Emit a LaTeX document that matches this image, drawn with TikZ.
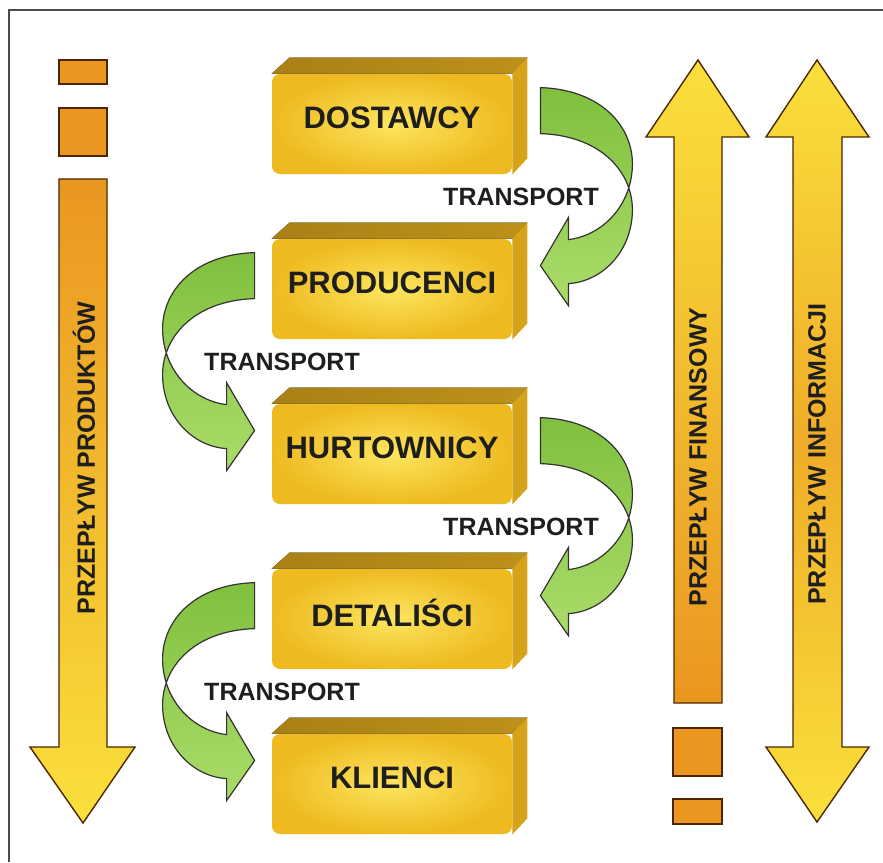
\documentclass[tikz,border=0pt]{standalone}
\usepackage{fontspec}
\setmainfont{Liberation Sans}
\usetikzlibrary{matrix,calc,backgrounds}
\definecolor{boxgold}{RGB}{238,186,32}
\definecolor{boxlight}{RGB}{252,230,95}
\definecolor{topgold}{RGB}{168,128,22}
\definecolor{sidegold}{RGB}{214,164,26}
\definecolor{bendgreen}{RGB}{128,192,62}
\definecolor{bendlight}{RGB}{170,220,105}
\definecolor{flowyellow}{RGB}{250,224,60}
\definecolor{floworange}{RGB}{234,150,32}
\definecolor{inkgray}{RGB}{30,30,30}
\tikzstyle{stage} = [rounded corners=4pt, minimum width=120pt, minimum height=50pt, inner color=boxlight, outer color=boxgold, text=inkgray, font=\bfseries\fontsize{15.5}{18}\selectfont, text depth=6pt]
\tikzstyle{topface} = [left color=topgold, right color=topgold!70!boxgold]
\tikzstyle{sideface} = [fill=sidegold]
\tikzstyle{transport} = [text=inkgray, font=\bfseries\fontsize{12.5}{15}\selectfont]
\tikzstyle{flowtext} = [transport, rotate=90]
\tikzstyle{bendarrow} = [draw=black!80, line width=0.6pt, top color=bendgreen, bottom color=bendlight]
\tikzstyle{flowbar} = [draw=black!70!orange, line width=0.7pt]
\tikzstyle{flowbit} = [flowbar, fill=floworange]
\newcommand{\stg}[2]{\node [stage] (#1) {#2};}
\newcommand{\greenbend}[2]{\begin{scope}[shift={#1}, xscale=#2]
	\draw[bendarrow] (0,0) .. controls (62,2) and (93,40) .. (92,78) .. controls (91,118) and (62,148) .. (28,152) -- (28,130) -- (0,178) -- (28,218) -- (28,196) .. controls (62,194) and (91,164) .. (92,124) .. controls (93,86) and (62,48) .. (0,46) -- cycle;
	\end{scope}}

\begin{document}
\begin{tikzpicture}[x=0.5pt, y=-0.5pt]%
	\useasboundingbox (0,0) rectangle (883,862);%
	\draw[black!70, line width=0.8pt] (9,862) -- (9,10) -- (883,10);%
	\matrix (mat) at (392,454) [row sep=32.5pt] {
		\stg{dost}{DOSTAWCY} \\
		\stg{prod}{PRODUCENCI} \\
		\stg{hurt}{HURTOWNICY} \\
		\stg{det}{DETALIŚCI} \\
		\stg{kl}{KLIENCI} \\
	};%
	\begin{scope}[on background layer]
		\foreach \s in {dost,prod,hurt,det,kl}{
			\fill[topface] (\s.north west) -- ($(\s.north west)+(18,-16)$) -- ($(\s.north east)+(15,-16)$) -- (\s.north east) -- cycle;
			\fill[sideface] (\s.north east) -- ($(\s.north east)+(15,-16)$) -- ($(\s.south east)+(15,-16)$) -- (\s.south east) -- cycle;
		}
	\end{scope}
	% transport
	\greenbend{($(dost.north east)+(28,14)$)}{1}
	\greenbend{($(prod.north west)+(-17,14)$)}{-1}
	\greenbend{($(hurt.north east)+(28,14)$)}{1}
	\greenbend{($(det.north west)+(-17,14)$)}{-1}
	\node[transport] (tr1) at (521,197) {TRANSPORT};
	\node[transport] (tr2) at (282,362) {TRANSPORT};
	\node[transport] (tr3) at (521,527) {TRANSPORT};
	\node[transport] (tr4) at (282,692) {TRANSPORT};
	% flows
	\draw[flowbit] (59,60) rectangle (107,84);
	\draw[flowbit] (59,108) rectangle (107,156);
	\draw[flowbar, top color=floworange, bottom color=flowyellow] (59,179) -- (107,179) -- (107,747) -- (135,747) -- (83,823) -- (30,747) -- (59,747) -- cycle;
	\node[flowtext] (prodflow) at (84,458) {PRZEPŁYW PRODUKTÓW};
	\draw[flowbar, top color=flowyellow, bottom color=floworange] (674,703) -- (674,137) -- (646,137) -- (698,60) -- (749,137) -- (722,137) -- (722,703) -- cycle;
	\draw[flowbit] (673,728) rectangle (722,776);
	\draw[flowbit] (673,799) rectangle (722,824);
	\node[flowtext] (finflow) at (698,457) {PRZEPŁYW FINANSOWY};
	\draw[flowbar, top color=flowyellow, bottom color=flowyellow, middle color=floworange!70!flowyellow] (793,137) -- (766,137) -- (817,60) -- (869,137) -- (842,137) -- (842,747) -- (869,747) -- (817,822) -- (766,747) -- (793,747) -- cycle;
	\node[flowtext] (infflow) at (817,454) {PRZEPŁYW INFORMACJI};
\end{tikzpicture}
\end{document}
